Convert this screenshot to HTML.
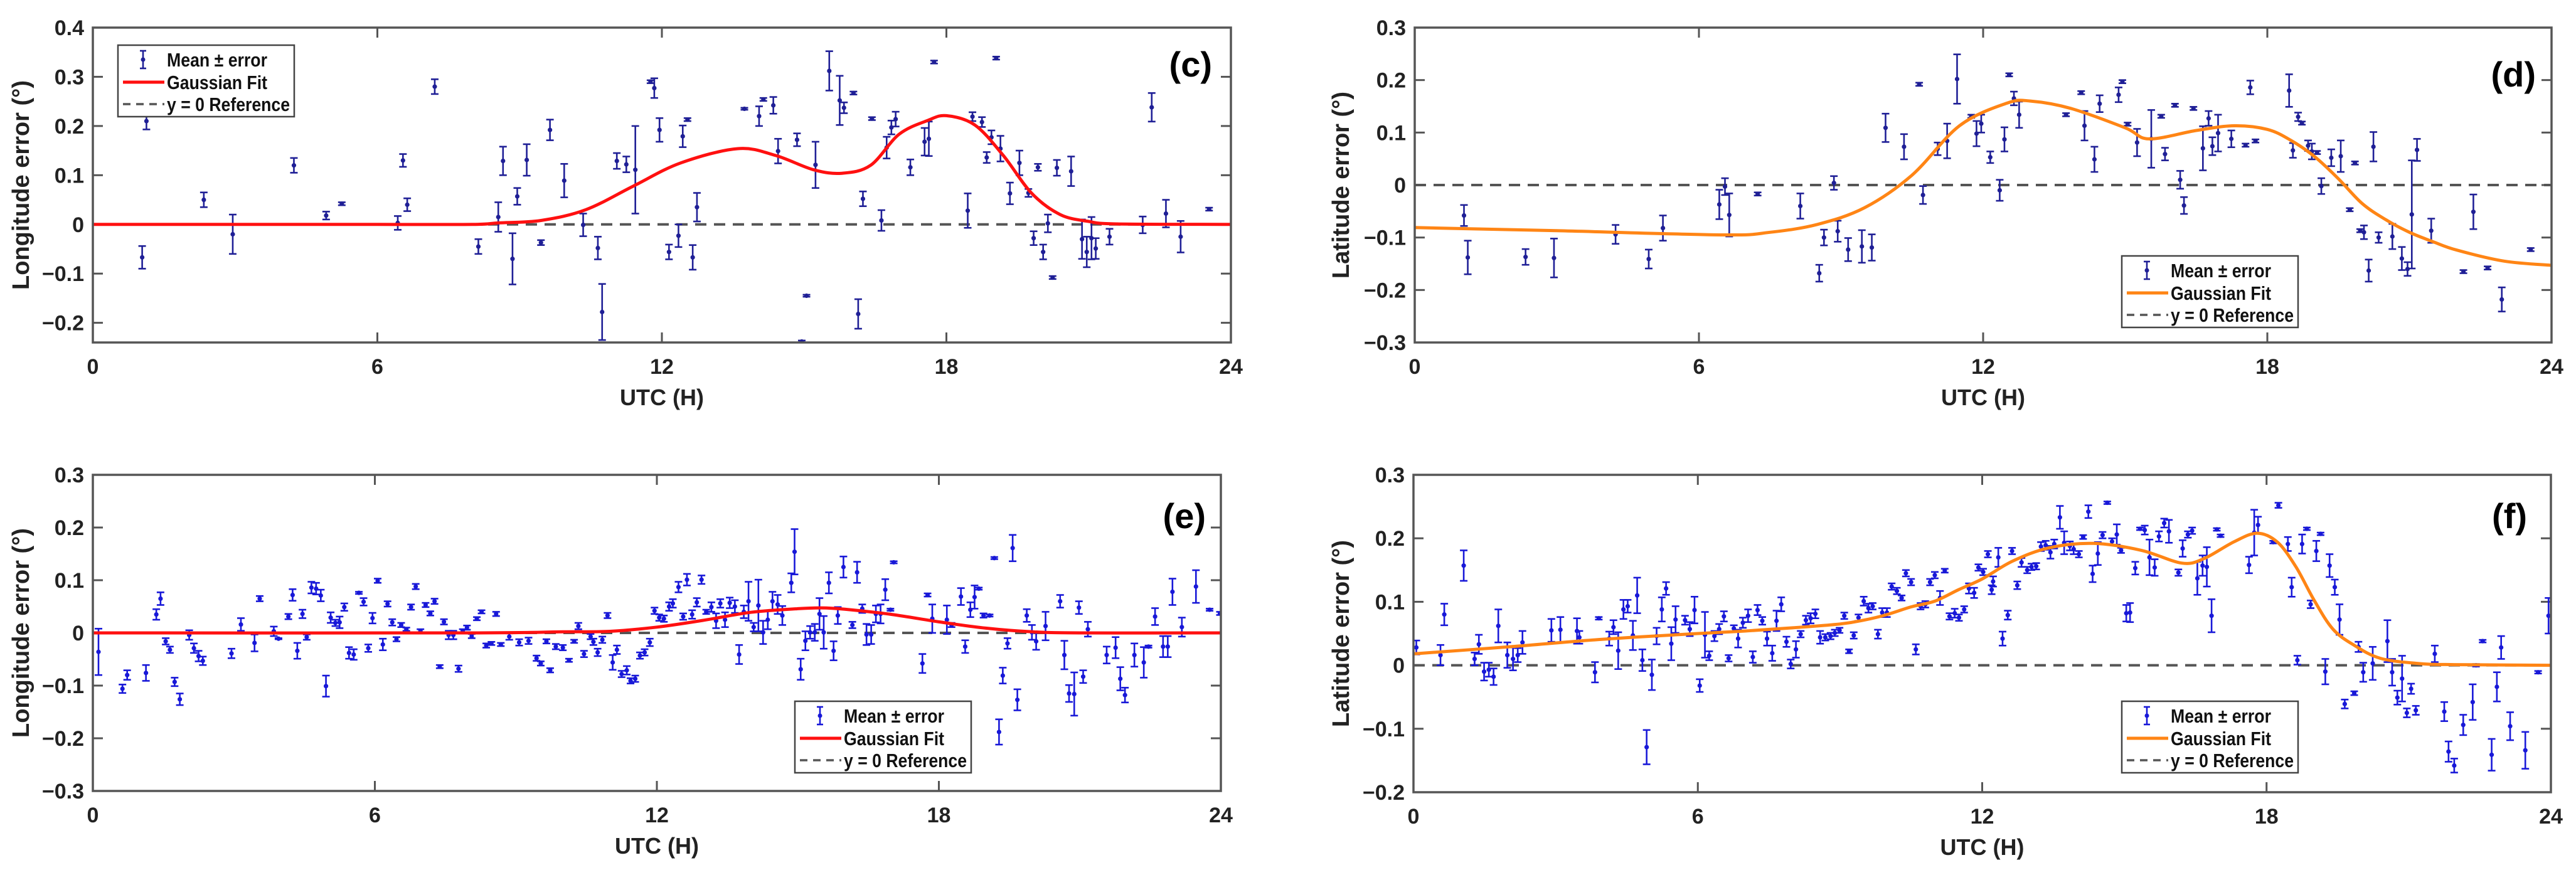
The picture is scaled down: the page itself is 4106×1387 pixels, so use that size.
<!DOCTYPE html>
<html><head><meta charset="utf-8">
<style>
html,body{margin:0;padding:0;background:#fff;}
svg{display:block;font-family:"Liberation Sans",Arial,sans-serif;}
</style></head>
<body>
<svg id="fig" xmlns="http://www.w3.org/2000/svg" width="4106" height="1387" viewBox="0 0 4106 1387">
<rect x="0" y="0" width="4106" height="1387" fill="#fff"/>
</svg>
<script>
// ---------- Panel (c) data ----------
const cHours=[1.04,1.13,2.34,2.95,4.24,4.92,5.25,6.43,6.54,6.63,7.21,8.13,8.55,8.65,8.85,8.95,9.15,9.45,9.64,9.94,10.34,10.65,10.74,11.05,11.25,11.44,11.76,11.84,11.95,12.15,12.35,12.44,12.54,12.65,12.74,13.74,14.05,14.14,14.35,14.45,14.85,15.05,14.95,15.24,15.53,15.75,15.84,16.04,16.14,16.24,16.43,16.63,16.74,16.84,16.93,17.24,17.54,17.63,17.74,18.45,18.55,18.75,18.85,18.95,19.05,19.14,19.34,19.54,19.73,19.84,19.93,20.04,20.14,20.24,20.33,20.63,20.86,20.96,21.06,21.15,21.44,22.14,22.33,22.63,22.94,23.54];
const cMeans=[-.067,.21,.05,-.02,.12,.018,.042,.003,.13,.04,.28,-.045,.015,.129,-.07,.057,.131,-.037,.192,.089,-.001,-.048,-.178,.129,.122,.111,.29,.277,.192,-.056,-.023,.179,.213,-.067,.035,.235,.22,.254,.242,.149,.172,-.145,-.238,.121,.312,.252,.237,.267,-.182,.052,.215,.008,.156,.197,.214,.116,.168,.174,.33,.028,.219,.208,.136,.177,.338,.154,.063,.125,.064,-.028,.116,-.056,.002,-.108,.115,.108,-.03,-.056,-.028,-.049,-.025,-.001,.238,.022,-.025,.031];
const cErrs=[.023,.017,.015,.04,.015,.008,.003,.014,.013,.013,.015,.015,.03,.029,.052,.017,.032,.005,.021,.034,.023,.023,.057,.016,.016,.089,.003,.02,.024,.015,.023,.022,.003,.025,.029,.002,.02,.003,.017,.025,.013,.002,.002,.047,.04,.05,.011,.003,.03,.015,.003,.021,.022,.014,.015,.016,.028,.035,.003,.035,.009,.01,.011,.014,.003,.026,.022,.025,.008,.014,.007,.015,.018,.003,.016,.03,.04,.031,.043,.021,.016,.017,.029,.028,.032,.003];
const cFitHours=[0,6,8,8.55,9.45,10.4,11.4,12.4,13.6,14.4,15.2,15.8,16.4,17,17.6,18,18.6,19.2,19.8,20.4,21,21.6,24];
const cFitValues=[0,0,0,.003,.008,.03,.078,.125,.154,.14,.111,.104,.12,.183,.211,.221,.202,.14,.063,.02,.006,.001,0];
const cYTicks=[-0.2,-0.1,0,0.1,0.2,0.3,0.4];
const cYTickLabels=["\u22120.2","\u22120.1","0","0.1","0.2","0.3","0.4"];

// ---------- Panel (d) data ----------
const dHours=[1.04,1.12,2.34,2.94,4.24,4.94,5.24,6.43,6.55,6.64,7.24,8.14,8.54,8.64,8.85,8.93,9.15,9.44,9.65,9.94,10.33,10.65,10.73,11.04,11.24,11.45,11.75,11.86,11.96,12.15,12.35,12.45,12.55,12.65,12.76,13.75,14.07,14.14,14.35,14.46,14.86,14.94,15.05,15.25,15.55,15.76,15.84,16.05,16.16,16.24,16.44,16.64,16.76,16.84,16.96,17.24,17.54,17.75,17.64,18.46,18.54,18.65,18.73,18.86,18.94,19.05,19.14,19.35,19.55,19.74,19.85,19.96,20.04,20.14,20.24,20.35,20.64,20.84,20.96,21.05,21.16,21.46,22.14,22.35,22.65,22.95,23.56];
const dMeans=[-.058,-.138,-.137,-.139,-.094,-.141,-.082,-.037,-.003,-.057,-.017,-.04,-.168,-.1,.004,-.088,-.123,-.117,-.119,.109,.073,.192,-.019,.069,.084,.202,.131,.098,.117,.053,-.01,.087,.21,.165,.134,.134,.176,.113,.049,.155,.172,.197,.116,.081,.088,.131,.059,.152,.01,-.039,.146,.07,.127,.074,.099,.088,.076,.084,.186,.18,.066,.13,.118,.075,.064,.062,-.002,.052,.055,-.047,.042,-.087,-.09,-.163,.073,-.1,-.098,-.14,-.16,-.056,.067,-.087,-.165,-.051,-.158,-.218,-.123];
const dErrs=[.02,.032,.015,.037,.018,.018,.024,.028,.016,.041,.003,.024,.016,.015,.013,.02,.022,.031,.025,.027,.024,.003,.017,.012,.033,.047,.003,.024,.017,.011,.02,.023,.003,.013,.025,.003,.003,.028,.024,.016,.014,.003,.003,.026,.055,.003,.012,.003,.017,.016,.003,.042,.014,.017,.035,.016,.003,.003,.013,.031,.014,.008,.003,.01,.015,.003,.015,.016,.03,.003,.003,.003,.013,.021,.028,.01,.024,.022,.013,.103,.021,.023,.003,.033,.003,.023,.003];
const dFitHours=[0,3,6.5,7.5,8.5,9.5,10.5,11.5,12.5,13,13.85,15,15.5,16.5,17.3,18,18.5,19,19.5,20,20.5,21,21.5,22,23,24];
const dFitValues=[-.081,-.087,-.095,-.09,-.075,-.043,.019,.113,.156,.16,.146,.109,.088,.104,.113,.106,.085,.054,.012,-.035,-.066,-.09,-.108,-.124,-.145,-.153];
const dYTicks=[-0.3,-0.2,-0.1,0,0.1,0.2,0.3];
const dYTickLabels=["\u22120.3","\u22120.2","\u22120.1","0","0.1","0.2","0.3"];

// ---------- Panel (e) data ----------
const eHours=[.12,.63,.73,1.13,1.35,1.44,1.55,1.64,1.74,1.85,2.05,2.15,2.25,2.34,2.95,3.15,3.44,3.55,3.85,3.95,4.16,4.25,4.35,4.46,4.55,4.65,4.75,4.85,4.96,5.06,5.16,5.25,5.35,5.45,5.55,5.66,5.76,5.86,5.95,6.06,6.17,6.27,6.37,6.46,6.56,6.67,6.77,6.87,6.97,7.08,7.18,7.27,7.38,7.47,7.57,7.67,7.78,7.87,7.96,8.06,8.17,8.27,8.37,8.48,8.58,8.68,
8.86,9.07,9.27,9.44,9.53,9.65,9.73,9.85,10.0,10.13,10.24,10.33,10.45,10.59,10.65,10.74,10.84,10.95,11.06,11.15,11.25,11.36,11.44,11.54,11.64,11.74,11.85,11.95,12.05,12.15,12.26,12.34,12.46,12.56,12.64,12.75,12.85,12.95,13.05,13.16,13.26,13.35,13.45,13.55,13.66,13.75,13.85,13.95,14.06,14.16,14.26,14.36,14.46,14.57,14.67,14.86,14.93,15.06,15.16,15.26,15.36,15.46,15.55,15.66,15.76,15.85,15.97,16.16,16.26,16.37,16.46,16.56,16.66,16.76,16.86,16.97,17.04,17.65,17.76,17.86,18.17,18.27,18.47,18.56,18.67,18.76,18.85,18.95,19.08,19.18,19.28,19.36,19.46,19.57,19.67,19.87,19.98,20.07,20.27,20.58,20.67,20.77,20.88,20.98,21.07,21.17,21.57,21.76,21.86,21.96,22.16,22.36,22.46,22.6,22.77,22.87,22.97,23.17,23.47,23.76,23.98];
const eMeans=[-.036,-.106,-.08,-.076,.035,.065,-.016,-.032,-.093,-.126,-.004,-.029,-.044,-.053,-.039,.016,-.019,.065,.003,-.011,.031,.072,-.034,.036,-.008,.086,.084,.071,-.101,.029,.019,.02,.049,-.038,-.041,.076,.059,-.029,.028,.099,-.022,.055,.02,-.012,.015,.007,.049,.088,.004,.053,.037,.06,-.064,.021,-.004,-.004,-.068,.004,.01,-.006,.027,.04,-.024,-.02,.036,-.022,
-.007,-.018,-.015,-.048,-.058,-.016,-.071,-.026,-.028,-.052,-.016,.013,-.04,-.007,-.017,-.037,-.013,.033,-.056,-.032,-.078,-.071,-.091,-.087,-.043,-.037,-.018,.042,.029,.027,.05,.056,.087,.031,.101,.035,.058,.101,.04,.049,.023,.056,.025,.057,.05,-.041,.04,.06,.011,.052,.001,.025,.06,.054,.033,.095,.154,-.069,-.015,.001,.001,.036,.001,.095,-.034,.033,.125,.015,.115,.046,-.003,-.003,.036,.036,.082,.044,.134,-.058,.072,.027,.025,.015,.069,-.026,.044,.068,.084,.033,.033,.142,-.188,-.081,-.02,.161,-.127,.033,.001,-.016,.013,.06,-.042,-.115,-.116,.048,-.083,.007,-.042,-.028,-.087,-.118,-.042,-.056,-.026,.031,-.026,-.026,.078,.011,.088,.044,.037];
const eErrs=[.044,.008,.009,.015,.01,.012,.006,.006,.008,.011,.009,.009,.01,.008,.009,.012,.016,.005,.009,.001,.005,.011,.015,.008,.005,.011,.011,.011,.02,.01,.006,.011,.007,.011,.01,.002,.007,.007,.01,.004,.011,.005,.006,.004,.004,.003,.005,.005,.003,.004,.004,.005,.003,.005,.008,.008,.006,.003,.004,.004,.003,.003,.004,.003,.004,.003,
.006,.006,.006,.005,.004,.004,.004,.005,.005,.003,.003,.006,.006,.005,.006,.007,.006,.005,.014,.008,.006,.008,.005,.006,.006,.006,.007,.006,.006,.006,.008,.008,.01,.006,.011,.008,.008,.008,.004,.009,.014,.008,.014,.01,.012,.018,.012,.037,.008,.049,.022,.018,.018,.018,.018,.018,.043,.02,.018,.012,.016,.03,.031,.02,.018,.016,.02,.006,.02,.008,.02,.018,.016,.018,.02,.002,.002,.018,.003,.027,.027,.004,.016,.012,.014,.022,.002,.004,.002,.002,.024,.015,.01,.025,.02,.012,.014,.016,.027,.012,.027,.016,.041,.012,.012,.014,.016,.02,.022,.014,.022,.029,.002,.016,.02,.02,.025,.018,.031,.002,.003];
const eFitHours=[0,8,10,11,12,13,14,15,15.5,16,17,18,19,20,21,24];
const eFitValues=[0,0,.002,.003,.011,.024,.039,.046,.0475,.045,.035,.021,.009,.002,0,0];
const eYTicks=[-0.3,-0.2,-0.1,0,0.1,0.2,0.3];
const eYTickLabels=["\u22120.3","\u22120.2","\u22120.1","0","0.1","0.2","0.3"];

// ---------- Panel (f) data ----------
const fHours=[.06,.57,.65,1.06,1.29,1.38,1.49,1.59,1.69,1.79,1.98,2.1,2.2,2.3,2.91,3.1,3.45,3.5,3.83,3.91,4.13,4.22,4.32,4.43,4.52,4.63,4.72,4.83,4.92,5.03,5.13,5.24,5.33,5.44,5.53,5.73,5.83,5.93,6.04,6.15,6.24,6.35,6.45,6.55,6.65,6.76,6.85,6.95,7.06,7.16,7.26,7.36,7.46,7.57,7.66,7.76,7.87,7.96,8.07,8.17,8.28,8.38,8.48,8.58,8.69,8.8,8.89,8.99,9.09,9.19,9.29,9.39,9.5,9.6,9.69,9.8,9.89,9.99,10.09,10.2,10.3,10.39,10.5,10.6,10.7,10.8,10.9,11.0,11.11,11.21,11.31,11.42,11.51,11.62,11.72,11.83,11.92,12.02,12.12,12.2,
12.23,12.34,12.43,12.54,12.63,12.74,12.83,12.95,13.04,13.14,13.24,13.34,13.44,13.52,13.64,13.73,13.85,13.93,14.04,14.13,14.24,14.33,14.44,14.54,14.64,14.74,14.84,14.93,15.04,15.12,15.23,15.33,15.43,15.53,15.64,15.73,15.84,15.94,16.14,16.23,16.34,16.43,16.54,16.65,16.74,16.84,16.95,17.03,17.63,17.74,17.82,18.14,18.25,18.45,18.53,18.65,18.75,18.85,18.93,19.05,19.14,19.24,19.33,19.44,19.54,19.65,19.85,19.94,20.04,20.24,20.55,20.65,20.76,20.86,20.96,21.05,21.15,21.55,21.75,21.84,21.96,22.15,22.35,22.42,22.56,22.75,22.86,22.95,23.14,23.46,23.73,23.95];
const fMeans=[.028,.016,.08,.157,.01,.033,-.01,-.007,-.018,.062,.016,.01,.016,.036,.055,.056,.054,.044,-.011,.074,.042,.06,.023,.088,.093,.047,.11,.008,-.129,-.015,.046,.088,.121,.034,.072,.071,.057,.087,-.032,.048,.015,.046,.057,.077,.011,.058,.042,.067,.078,.013,.087,.07,.042,.019,.07,.096,.037,.002,.025,.049,.071,.074,.081,.044,.044,.046,.051,.055,.078,.022,.047,.075,.101,.09,.093,.049,.083,.083,.124,.117,.106,.145,.131,.025,.093,.096,.131,.142,.106,.149,.077,.082,.075,.088,.121,.114,.154,.147,.175,.119,
.132,.17,.042,.079,.18,.126,.162,.15,.155,.156,.187,.189,.178,.191,.233,.193,.188,.183,.175,.202,.242,.144,.176,.205,.256,.195,.206,.181,.082,.083,.153,.215,.213,.17,.154,.203,.224,.211,.146,.184,.206,.212,.137,.157,.155,.078,.214,.204,.158,.209,.221,.194,.252,.191,.123,.008,.191,.215,.096,.18,.207,-.01,.157,.123,.072,-.061,-.044,.029,-.011,.003,.038,-.011,-.051,-.021,-.075,-.037,-.071,.018,-.073,-.136,-.158,-.094,-.058,0,.038,-.141,-.034,.028,-.096,-.134,-.011,.078];
const fErrs=[.011,.016,.017,.024,.01,.015,.014,.011,.013,.026,.02,.018,.011,.018,.018,.02,.02,.01,.016,.002,.011,.011,.029,.015,.01,.023,.028,.017,.027,.024,.013,.019,.01,.026,.021,.007,.011,.021,.01,.036,.007,.008,.008,.008,.005,.005,.014,.008,.01,.009,.008,.006,.011,.012,.016,.011,.008,.007,.013,.005,.007,.008,.007,.01,.005,.005,.005,.004,.005,.003,.005,.005,.007,.007,.005,.007,.007,.007,.005,.005,.004,.005,.005,.008,.005,.005,.005,.005,.011,.003,.005,.007,.005,.005,.008,.008,.005,.005,.005,.007,
.008,.015,.011,.007,.005,.006,.007,.005,.005,.005,.007,.007,.01,.007,.018,.018,.007,.008,.005,.003,.01,.013,.018,.005,.002,.005,.016,.004,.013,.015,.01,.002,.007,.028,.013,.008,.007,.018,.005,.013,.005,.005,.026,.016,.031,.026,.002,.002,.013,.036,.013,.002,.004,.011,.015,.007,.015,.002,.006,.016,.002,.02,.018,.012,.024,.007,.003,.008,.015,.026,.033,.021,.011,.036,.007,.008,.007,.013,.015,.016,.011,.016,.028,.002,.002,.025,.023,.018,.022,.029,.002,.028];
const fFitHours=[0,2,4,6,7,8,9,9.5,10,10.5,11,11.5,12,12.64,13.41,14.35,15.36,16.21,16.68,17.3,17.8,18.23,18.62,19,19.4,19.86,20.4,21.18,21.96,24];
const fFitValues=[.018,.029,.041,.05,.054,.059,.065,.071,.08,.092,.101,.119,.136,.164,.185,.192,.181,.161,.168,.194,.208,.194,.155,.103,.057,.031,.011,.003,.001,0];
const fYTicks=[-0.2,-0.1,0,0.1,0.2,0.3];
const fYTickLabels=["\u22120.2","\u22120.1","0","0.1","0.2","0.3"];

const xTicks=[0,6,12,18,24];
const xTickLabels=["0","6","12","18","24"];
const legendLabels=["Mean \u00b1 error","Gaussian Fit","y = 0 Reference"];

const NS="http://www.w3.org/2000/svg";
const svg=document.getElementById("fig");
function mk(tag,attrs,parent){const e=document.createElementNS(NS,tag);for(const k in attrs)e.setAttribute(k,attrs[k]);(parent||svg).appendChild(e);return e;}

function crPath(pts){
  let d="M"+pts[0][0].toFixed(1)+","+pts[0][1].toFixed(1);
  for(let i=0;i<pts.length-1;i++){
    const p0=pts[Math.max(0,i-1)],p1=pts[i],p2=pts[i+1],p3=pts[Math.min(pts.length-1,i+2)];
    const c1x=p1[0]+(p2[0]-p0[0])/6,c1y=p1[1]+(p2[1]-p0[1])/6;
    const c2x=p2[0]-(p3[0]-p1[0])/6,c2y=p2[1]-(p3[1]-p1[1])/6;
    d+=" C"+c1x.toFixed(1)+","+c1y.toFixed(1)+" "+c2x.toFixed(1)+","+c2y.toFixed(1)+" "+p2[0].toFixed(1)+","+p2[1].toFixed(1);
  }
  return d;
}

function panel(cfg,hours,means,errs,fitH,fitV,yTicks,yLabels){
  const g=mk("g",{});
  
  
  const xs=h=>cfg.x0+(h/24)*(cfg.x1-cfg.x0);
  const ys=v=>cfg.y1-(v-cfg.ymin)/(cfg.ymax-cfg.ymin)*(cfg.y1-cfg.y0);
  const clipId="clip"+cfg.id;
  const cp=mk("clipPath",{id:clipId},g);
  mk("rect",{x:cfg.x0,y:cfg.y0,width:cfg.x1-cfg.x0,height:cfg.y1-cfg.y0},cp);
  xTicks.forEach((t,i)=>{
    const x=xs(t);
    if(i>0&&i<xTicks.length-1){
      mk("line",{x1:x,x2:x,y1:cfg.y0,y2:cfg.y0+16,stroke:"#555","stroke-width":3},g);
      mk("line",{x1:x,x2:x,y1:cfg.y1,y2:cfg.y1-16,stroke:"#555","stroke-width":3},g);
    }
    const tx=mk("text",{x:x,y:cfg.y1+50,"text-anchor":"middle","font-size":34,"font-weight":"bold",fill:"#222"},g);
    tx.textContent=xTickLabels[i];
    
    
  });
  yTicks.forEach((t,i)=>{
    const y=ys(t);
    mk("line",{x1:cfg.x0,x2:cfg.x0+16,y1:y,y2:y,stroke:"#555","stroke-width":3},g);
    mk("line",{x1:cfg.x1,x2:cfg.x1-16,y1:y,y2:y,stroke:"#555","stroke-width":3},g);
    const tx=mk("text",{x:cfg.x0-14,y:y+12,"text-anchor":"end","font-size":34,"font-weight":"bold",fill:"#222"},g);
    tx.textContent=yLabels[i];
    
    
  });
  const z=mk("line",{x1:cfg.x0,x2:cfg.x1,y1:ys(0),y2:ys(0),stroke:"#555","stroke-width":4,"stroke-dasharray":"18,12"},g);
  
  
  const pg=mk("g",{"clip-path":"url(#"+clipId+")"},g);
  
  
  const n=Math.min(hours.length,means.length,errs.length);
  for(let i=0;i<n;i++){
    const x=xs(hours[i]),yt=ys(means[i]+errs[i]),yb=ys(means[i]-errs[i]),yc=ys(means[i]);
    const b=mk("g",{stroke:cfg.pc,"stroke-width":2.6,fill:cfg.pc},pg);
    
    
    mk("line",{x1:x,x2:x,y1:yt,y2:yb},b);
    mk("line",{x1:x-6,x2:x+6,y1:yt,y2:yt},b);
    mk("line",{x1:x-6,x2:x+6,y1:yb,y2:yb},b);
    mk("circle",{cx:x,cy:yc,r:3.6,stroke:"none"},b);
  }
  const pts=fitH.map((h,i)=>[xs(h),ys(fitV[i])]);
  const fc=mk("path",{d:crPath(pts),fill:"none",stroke:cfg.fc,"stroke-width":5,"stroke-linejoin":"round","clip-path":"url(#"+clipId+")"},g);
  
  
  const fr=mk("rect",{x:cfg.x0,y:cfg.y0,width:cfg.x1-cfg.x0,height:cfg.y1-cfg.y0,fill:"none",stroke:"#555","stroke-width":3.5},g);
  
  
  const xt=mk("text",{x:(cfg.x0+cfg.x1)/2,y:cfg.y1+100,"text-anchor":"middle","font-size":36,"font-weight":"bold",fill:"#222"},g);
  xt.textContent="UTC (H)";
  
  
  const cy=(cfg.y0+cfg.y1)/2;
  const yt=mk("text",{x:cfg.ytx,y:cy,"text-anchor":"middle","font-size":38,"font-weight":"bold",fill:"#222",transform:"rotate(-90 "+cfg.ytx+" "+cy+")"},g);
  yt.textContent=cfg.ytitle;
  
  
  const pl=mk("text",{x:cfg.lx,y:cfg.ly,"text-anchor":"end","font-size":56,"font-weight":"bold",fill:"#000"},g);
  pl.textContent="("+cfg.id+")";
  
  
  const L=cfg.leg;
  const lg=mk("g",{},g);
  
  
  mk("rect",{x:L.x,y:L.y,width:281,height:114,fill:"#fff",stroke:"#444","stroke-width":2.5},lg);
  const r1=L.y+23,r2=L.y+59,r3=L.y+94;
  const bx=L.x+40;
  const le=mk("g",{stroke:cfg.pc,"stroke-width":2.6,fill:cfg.pc},lg);
  
  
  mk("line",{x1:bx,x2:bx,y1:r1-14,y2:r1+14},le);
  mk("line",{x1:bx-5,x2:bx+5,y1:r1-14,y2:r1-14},le);
  mk("line",{x1:bx-5,x2:bx+5,y1:r1+14,y2:r1+14},le);
  mk("circle",{cx:bx,cy:r1,r:3.5,stroke:"none"},le);
  const lf=mk("line",{x1:L.x+8,x2:L.x+74,y1:r2,y2:r2,stroke:cfg.fc,"stroke-width":5},lg);
  
  
  const lr=mk("line",{x1:L.x+8,x2:L.x+74,y1:r3,y2:r3,stroke:"#555","stroke-width":3.5,"stroke-dasharray":"12,9"},lg);
  
  
  const widths=[160,160,196];
  [r1,r2,r3].forEach((y,i)=>{
    const tx=mk("text",{x:L.x+78,y:y+11,"font-size":31,"font-weight":"bold",fill:"#111",textLength:widths[i],lengthAdjust:"spacingAndGlyphs"},lg);
    tx.textContent=legendLabels[i];
    
    
  });
}

panel({id:"c",x0:148,x1:1962,y0:44,y1:546,ymin:-0.24,ymax:0.4,pc:"#1f1f96",fc:"#ff1010",ytitle:"Longitude error (\u00b0)",ytx:46,lx:1932,ly:122,leg:{x:188,y:72}},cHours,cMeans,cErrs,cFitHours,cFitValues,cYTicks,cYTickLabels);
panel({id:"d",x0:2255,x1:4067,y0:44,y1:546,ymin:-0.3,ymax:0.3,pc:"#1f1f96",fc:"#ff8515",ytitle:"Latitude error (\u00b0)",ytx:2150,lx:4042,ly:138,leg:{x:3382,y:408}},dHours,dMeans,dErrs,dFitHours,dFitValues,dYTicks,dYTickLabels);
panel({id:"e",x0:148,x1:1946,y0:757,y1:1261,ymin:-0.3,ymax:0.3,pc:"#1818d8",fc:"#ff1010",ytitle:"Longitude error (\u00b0)",ytx:46,lx:1922,ly:842,leg:{x:1267,y:1118}},eHours,eMeans,eErrs,eFitHours,eFitValues,eYTicks,eYTickLabels);
panel({id:"f",x0:2253,x1:4066,y0:757,y1:1263,ymin:-0.2,ymax:0.3,pc:"#1818d8",fc:"#ff8515",ytitle:"Latitude error (\u00b0)",ytx:2150,lx:4028,ly:842,leg:{x:3382,y:1118}},fHours,fMeans,fErrs,fFitHours,fFitValues,fYTicks,fYTickLabels);
</script>
</body></html>
